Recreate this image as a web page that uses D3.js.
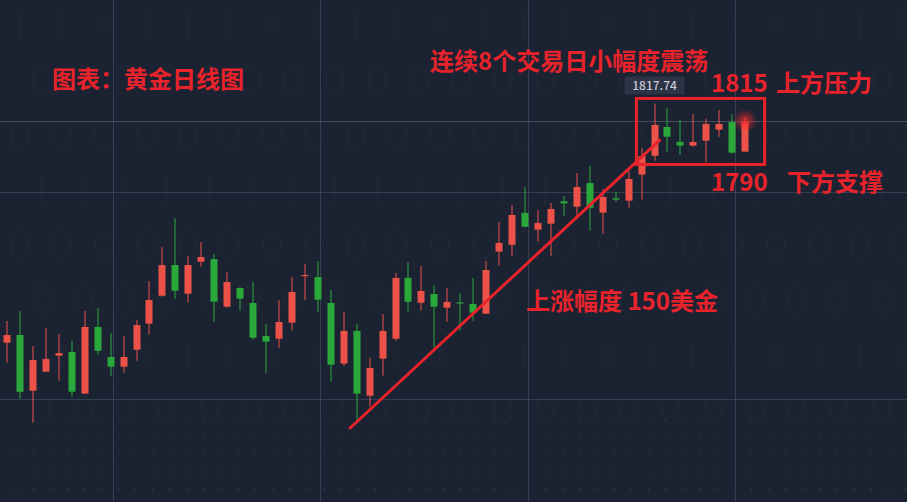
<!DOCTYPE html>
<html>
<head>
<meta charset="utf-8">
<script src="https://cdn.jsdelivr.net/npm/d3@7/dist/d3.min.js"></script>
<style>
  html, body { margin: 0; padding: 0; background: #1b2232; overflow: hidden; }
  svg { display: block; }
  text { font-family: "Noto Sans CJK SC", "Noto Sans", sans-serif; }
</style>
</head>
<body>
<svg id="chart" width="907" height="502"></svg>
<script>
// ---- Data (gold daily candles) ----
const opens = [1702.2,1705.9,1679.0,1688.2,1695.9,1697.7,1677.6,1709.8,1695.3,1690.6,
1698.8,1711.4,1724.9,1739.7,1725.9,1741.3,1742.6,1719.6,1728.6,1721.4,
1705.4,1704.1,1711.9,1734.6,1733.9,1721.4,1692.1,1707.9,1676.6,1694.5,
1704.1,1733.5,1721.5,1725.7,1719.1,1721.7,1720.9,1716.2,1746.2,1749.5,
1764.9,1756.8,1759.7,1770.5,1767.9,1779.3,1765.0,1772.0,1770.8,1783.4,
1792.5,1806.4,1799.2,1797.4,1799.8,1805.1,1808.8,1794.5];
const closes = [1705.9,1678.5,1693.8,1694.3,1697.2,1678.5,1709.8,1698.3,1690.6,1695.3,
1710.7,1722.8,1739.7,1727.3,1739.7,1743.6,1722.0,1731.5,1723.5,1704.6,
1702.7,1712.2,1726.7,1734.9,1723.0,1691.6,1707.9,1677.6,1690.0,1707.9,
1733.5,1722.0,1727.2,1719.6,1721.9,1721.4,1716.7,1737.3,1750.4,1763.9,
1758.2,1760.0,1766.8,1769.5,1777.4,1767.4,1772.6,1771.3,1781.3,1792.4,
1807.4,1801.7,1797.4,1799.2,1807.9,1807.9,1794.0,1808.8];
const highs = [1712.7,1717.5,1700.6,1709.3,1706.4,1703.0,1717.5,1719.0,1706.9,1705.4,
1713.2,1732.0,1748.4,1762.4,1744.1,1750.8,1745.0,1736.4,1729.1,1731.5,
1711.2,1722.8,1733.9,1740.2,1741.7,1727.7,1717.0,1711.2,1695.0,1716.1,
1735.9,1741.2,1739.3,1730.1,1728.6,1726.2,1733.5,1741.7,1760.5,1768.7,
1777.4,1766.3,1769.7,1773.1,1784.2,1787.6,1776.4,1775.0,1785.1,1796.3,
1817.74,1815.6,1809.8,1812.7,1810.3,1814.6,1812.7,1811.2];
const lows = [1692.5,1675.1,1663.6,1688.2,1683.8,1676.1,1677.6,1696.4,1686.3,1687.7,
1693.5,1706.1,1724.4,1723.5,1721.5,1738.9,1712.3,1719.1,1717.7,1703.6,
1687.7,1699.8,1708.0,1722.8,1717.2,1683.4,1691.1,1664.9,1671.3,1686.3,
1703.2,1717.2,1717.7,1699.8,1712.3,1708.0,1712.8,1716.2,1739.4,1744.2,
1757.8,1751.0,1744.2,1763.6,1762.1,1756.3,1754.9,1770.3,1767.4,1771.3,
1790.1,1794.5,1793.0,1796.9,1789.2,1801.7,1793.5,1794.5];

const gridPrices = [1675, 1775];           // horizontal grid levels
const gridIndex  = [8.2, 24.2, 40.2, 56.2]; // vertical grid positions (bar index)
const highLabel  = "1817.74";
const trendFrom  = [26.5, 1661.0];         // [bar index, price]
const trendTo    = [50.4, 1800.1];
const boxFrom    = [48.6, 1820.2];
const boxTo      = [58.5, 1788.3];

const titleText  = "图表：黄金日线图";
const rangeText  = "连续8个交易日小幅度震荡";
const resistText = ["1815", "上方压力"];
const supportText= ["1790", "下方支撑"];
const riseText   = "上涨幅度 150美金";

// ---- Setup ----
const W = 907, H = 502;
const svg = d3.select("#chart");
const RED = "#ec5248", GREEN = "#2ba83b", ANN = "#e8232b";

const x = d3.scaleLinear().domain([0, opens.length - 1]).range([7, 745.2]);
const y = d3.scaleLinear().domain([1675, 1775]).range([399, 192]);

svg.append("rect").attr("width", W).attr("height", H).attr("fill", "#1b2232");

// faint binary-style texture (shapes only)
const tex = svg.append("g").attr("fill", "none").attr("stroke", "#ffffff")
  .attr("stroke-opacity", 0.022).attr("stroke-width", 1.5);
d3.range(8).forEach(r => {
  d3.range(22).forEach(c => {
    const cx = 20 + c * 42 + (r % 2) * 21, cy = 25 + r * 55;
    if ((r * 7 + c * 3) % 3 === 0) {
      tex.append("line").attr("x1", cx).attr("x2", cx).attr("y1", cy - 14).attr("y2", cy + 14);
    } else {
      tex.append("ellipse").attr("cx", cx).attr("cy", cy).attr("rx", 9).attr("ry", 14);
    }
  });
});

// dotted floor pattern near the bottom
const dotRows = [383, 401, 419, 437, 454, 472, 489];
const dots = svg.append("g");
dotRows.forEach((ry, k) => {
  d3.range(0, 54).forEach(c => {
    dots.append("ellipse").attr("cx", 16 + c * 17.1).attr("cy", ry)
      .attr("rx", 1.3).attr("ry", 2.0)
      .attr("fill", "#ffffff").attr("opacity", 0.01 + k * 0.006);
  });
});

// grid
const grid = svg.append("g").attr("stroke", "#363e51").attr("stroke-width", 1);
gridPrices.forEach(p => grid.append("line")
  .attr("x1", 0).attr("x2", W).attr("y1", Math.round(y(p)) + 0.5).attr("y2", Math.round(y(p)) + 0.5));
gridIndex.forEach(i => grid.append("line")
  .attr("y1", 0).attr("y2", H).attr("x1", Math.round(x(i)) + 0.5).attr("x2", Math.round(x(i)) + 0.5));

// last price line
const lastClose = closes[closes.length - 1];
svg.append("line").attr("x1", 0).attr("x2", W)
  .attr("y1", Math.round(y(lastClose)) - 0.5).attr("y2", Math.round(y(lastClose)) - 0.5)
  .attr("stroke", "#4b4a5c").attr("stroke-width", 1);

// candles
const data = opens.map((o, i) => ({ i, o, c: closes[i], h: highs[i], l: lows[i] }));
const bw = 7;
const cg = svg.append("g");
const candle = cg.selectAll("g").data(data).join("g")
  .attr("fill", d => d.c >= d.o ? RED : GREEN)
  .attr("stroke", "none");
candle.append("rect")
  .attr("x", d => Math.round(x(d.i)) - 0.5).attr("width", 1)
  .attr("y", d => y(d.h)).attr("height", d => y(d.l) - y(d.h));
candle.append("rect")
  .attr("x", d => Math.round(x(d.i)) - 3.5).attr("width", bw)
  .attr("y", d => y(Math.max(d.o, d.c)))
  .attr("height", d => Math.max(1.2, Math.abs(y(d.o) - y(d.c))));

// glow on the last bar
const defs = svg.append("defs");
const rg = defs.append("radialGradient").attr("id", "glow");
rg.append("stop").attr("offset", "0%").attr("stop-color", "#ff2a2a").attr("stop-opacity", 0.75);
rg.append("stop").attr("offset", "100%").attr("stop-color", "#ff2a2a").attr("stop-opacity", 0);
svg.append("circle").attr("cx", x(opens.length - 1)).attr("cy", y(lastClose) - 1)
  .attr("r", 12).attr("fill", "url(#glow)");

// high label
const hi = d3.max(highs), hiIdx = highs.indexOf(hi);
const hx = x(hiIdx);
const lab = svg.append("g");
lab.append("rect").attr("x", hx - 30).attr("y", y(hi) - 27).attr("width", 60).attr("height", 18)
  .attr("rx", 2).attr("fill", "#2b3345");
lab.append("text").attr("x", hx).attr("y", y(hi) - 13.5).attr("text-anchor", "middle")
  .attr("font-size", 12).attr("font-weight", 500).attr("font-family", "Roboto, 'Noto Sans', sans-serif")
  .attr("fill", "#c5cad4").text(highLabel);

// trend line
svg.append("line")
  .attr("x1", x(trendFrom[0])).attr("y1", y(trendFrom[1]))
  .attr("x2", x(trendTo[0])).attr("y2", y(trendTo[1]))
  .attr("stroke", ANN).attr("stroke-width", 3).attr("stroke-linecap", "round");

// consolidation box
svg.append("rect")
  .attr("x", x(boxFrom[0])).attr("y", y(boxFrom[1]))
  .attr("width", x(boxTo[0]) - x(boxFrom[0])).attr("height", y(boxTo[1]) - y(boxFrom[1]))
  .attr("fill", "none").attr("stroke", ANN).attr("stroke-width", 3);

// annotations
const ann = svg.append("g").attr("fill", ANN).attr("font-weight", 700).attr("font-size", 24);
ann.append("text").attr("x", 52).attr("y", 88).text(titleText);
ann.append("text").attr("x", 430).attr("y", 70).text(rangeText);
const t1 = ann.append("text").attr("y", 92);
t1.append("tspan").attr("x", 711).text(resistText[0]);
t1.append("tspan").attr("x", 776).text(resistText[1]);
const t2 = ann.append("text").attr("y", 191);
t2.append("tspan").attr("x", 711).text(supportText[0]);
t2.append("tspan").attr("x", 787).text(supportText[1]);
ann.append("text").attr("x", 526).attr("y", 310).text(riseText);
</script>
</body>
</html>
